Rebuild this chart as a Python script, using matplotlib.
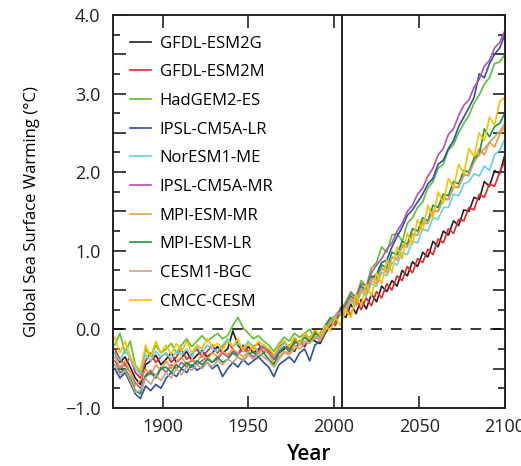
import numpy as np
import matplotlib
matplotlib.use("Agg")
import matplotlib.pyplot as plt
from matplotlib.ticker import MultipleLocator

plt.rcParams['font.family'] = ['Open Sans', 'DejaVu Sans']

# years sampled every 3 yr, 1872..2100
years = np.arange(1872, 2101, 3)

models = ["GFDL-ESM2G", "GFDL-ESM2M", "HadGEM2-ES", "IPSL-CM5A-LR", "NorESM1-ME",
          "IPSL-CM5A-MR", "MPI-ESM-MR", "MPI-ESM-LR", "CESM1-BGC", "CMCC-CESM"]
colors = ["#222222", "#e8232a", "#5cc22e", "#2f4fa8", "#62d2e2",
          "#b24fb8", "#f59a3c", "#17983a", "#c9a284", "#f7c200"]

gfdl_esm2g = [-0.30, -0.42, -0.35, -0.48, -0.62, -0.70, -0.45, -0.40, -0.33, -0.45,
              -0.38, -0.30, -0.42, -0.36, -0.28, -0.40, -0.33, -0.27, -0.35, -0.30,
              -0.22, -0.30, -0.25, -0.02, -0.20, -0.28, -0.22, -0.30, -0.25, -0.20,
              -0.28, -0.38, -0.30, -0.25, -0.20, -0.28, -0.15, -0.22, -0.10, -0.15,
              -0.18, -0.05, 0.05, 0.10, 0.22,
              0.15, 0.32, 0.20, 0.38, 0.26, 0.45, 0.35, 0.55, 0.48, 0.62,
              0.55, 0.75, 0.68, 0.86, 0.80, 0.98, 0.92, 1.12, 1.05, 1.25,
              1.20, 1.38, 1.32, 1.52, 1.50, 1.68, 1.65, 1.88, 1.82, 2.02,
              1.98, 2.22]
gfdl_esm2m = [-0.25, -0.38, -0.45, -0.35, -0.55, -0.62, -0.40, -0.30, -0.42, -0.35,
              -0.30, -0.42, -0.35, -0.25, -0.38, -0.32, -0.25, -0.35, -0.28, -0.20,
              -0.30, -0.22, -0.15, -0.25, -0.32, -0.20, -0.28, -0.22, -0.18, -0.30,
              -0.25, -0.35, -0.22, -0.15, -0.25, -0.12, -0.18, -0.05, -0.15, -0.02,
              -0.12, 0.02, 0.12, 0.05, 0.28,
              0.30, 0.18, 0.38, 0.25, 0.40, 0.30, 0.48, 0.40, 0.58, 0.50,
              0.68, 0.62, 0.80, 0.72, 0.90, 0.85, 1.02, 0.95, 1.15, 1.10,
              1.28, 1.22, 1.40, 1.38, 1.55, 1.52, 1.72, 1.68, 1.85, 1.82,
              2.00, 2.14]
hadgem2_es = [-0.20, -0.05, -0.30, -0.15, -0.45, -0.55, -0.25, -0.35, -0.20, -0.30,
              -0.25, -0.18, -0.30, -0.20, -0.12, -0.22, -0.15, -0.08, -0.15, -0.10,
              -0.05, -0.12, -0.08, 0.05, 0.15, 0.02, -0.05, -0.12, -0.08, -0.15,
              -0.20, -0.28, -0.18, -0.10, -0.15, -0.05, -0.10, -0.05, 0.00, -0.12,
              -0.05, 0.05, 0.12, 0.18, 0.25,
              0.35, 0.48, 0.40, 0.62, 0.55, 0.78, 0.85, 1.05, 0.98, 1.20,
              1.22, 1.12, 1.35, 1.42, 1.55, 1.62, 1.80, 1.88, 2.05, 2.10,
              2.28, 2.35, 2.50, 2.62, 2.72, 2.88, 2.98, 3.12, 3.20, 3.38,
              3.40, 3.50]
ipsl_lr = [-0.50, -0.62, -0.55, -0.68, -0.82, -0.88, -0.72, -0.78, -0.70, -0.75,
           -0.62, -0.55, -0.60, -0.50, -0.55, -0.45, -0.52, -0.48, -0.42, -0.50,
           -0.45, -0.60, -0.50, -0.42, -0.48, -0.38, -0.45, -0.40, -0.35, -0.42,
           -0.48, -0.60, -0.45, -0.40, -0.35, -0.42, -0.30, -0.25, -0.40, -0.20,
           -0.15, -0.05, 0.05, 0.12, 0.20,
           0.30, 0.40, 0.35, 0.52, 0.48, 0.65, 0.70, 0.85, 0.88, 1.05,
           1.18, 1.30, 1.45, 1.52, 1.62, 1.72, 1.85, 1.92, 2.10, 2.15,
           2.30, 2.40, 2.58, 2.70, 2.82, 2.95, 3.25, 3.20, 3.38, 3.50,
           3.58, 3.75]
noresm1_me = [-0.30, -0.40, -0.25, -0.38, -0.50, -0.58, -0.32, -0.40, -0.28, -0.35,
              -0.30, -0.38, -0.28, -0.32, -0.25, -0.35, -0.22, -0.30, -0.20, -0.25,
              -0.28, -0.20, -0.12, -0.22, -0.18, -0.25, -0.15, -0.22, -0.28, -0.20,
              -0.30, -0.35, -0.25, -0.18, -0.22, -0.15, -0.20, -0.10, -0.12, -0.05,
              -0.10, 0.00, 0.08, 0.15, 0.18,
              0.25, 0.35, 0.30, 0.48, 0.42, 0.58, 0.55, 0.72, 0.68, 0.85,
              0.82, 0.98, 0.95, 1.12, 1.10, 1.28, 1.25, 1.42, 1.40, 1.55,
              1.55, 1.72, 1.70, 1.85, 1.88, 1.98, 1.95, 2.08, 2.02, 2.22,
              2.28, 2.42]
ipsl_mr = [-0.40, -0.50, -0.45, -0.55, -0.68, -0.75, -0.58, -0.52, -0.60, -0.48,
           -0.55, -0.45, -0.50, -0.42, -0.48, -0.38, -0.45, -0.40, -0.35, -0.42,
           -0.38, -0.30, -0.35, -0.28, -0.32, -0.25, -0.30, -0.35, -0.28, -0.22,
           -0.30, -0.38, -0.28, -0.22, -0.25, -0.18, -0.15, -0.20, -0.10, -0.05,
           -0.08, 0.02, 0.10, 0.18, 0.25,
           0.32, 0.45, 0.42, 0.58, 0.55, 0.72, 0.82, 0.90, 1.02, 1.10,
           1.25, 1.35, 1.50, 1.58, 1.72, 1.80, 1.95, 2.05, 2.22, 2.30,
           2.48, 2.55, 2.72, 2.85, 2.92, 3.08, 3.18, 3.35, 3.42, 3.58,
           3.65, 3.80]
mpi_mr = [-0.35, -0.48, -0.40, -0.55, -0.72, -0.65, -0.50, -0.58, -0.45, -0.52,
          -0.40, -0.50, -0.42, -0.35, -0.45, -0.38, -0.42, -0.32, -0.38, -0.30,
          -0.35, -0.28, -0.32, -0.25, -0.30, -0.35, -0.28, -0.22, -0.30, -0.25,
          -0.32, -0.42, -0.35, -0.28, -0.30, -0.20, -0.25, -0.18, -0.12, -0.08,
          -0.15, -0.02, 0.08, 0.12, 0.20,
          0.22, 0.38, 0.32, 0.50, 0.45, 0.62, 0.58, 0.78, 0.72, 0.92,
          0.88, 1.08, 1.05, 1.22, 1.20, 1.38, 1.35, 1.52, 1.50, 1.68,
          1.65, 1.82, 1.80, 1.98, 1.95, 2.15, 2.30, 2.22, 2.38, 2.32,
          2.48, 2.58]
mpi_lr = [-0.45, -0.55, -0.50, -0.62, -0.78, -0.82, -0.60, -0.55, -0.62, -0.50,
          -0.48, -0.55, -0.45, -0.50, -0.42, -0.48, -0.40, -0.45, -0.38, -0.42,
          -0.35, -0.42, -0.38, -0.30, -0.35, -0.40, -0.32, -0.28, -0.35, -0.30,
          -0.38, -0.45, -0.30, -0.22, -0.28, -0.15, -0.18, -0.10, -0.15, -0.05,
          -0.08, 0.05, 0.15, 0.10, 0.25,
          0.30, 0.42, 0.38, 0.55, 0.50, 0.68, 0.65, 0.82, 0.78, 0.98,
          0.95, 1.12, 1.08, 1.28, 1.25, 1.42, 1.38, 1.58, 1.55, 1.72,
          1.70, 1.88, 1.85, 2.02, 2.00, 2.18, 2.22, 2.55, 2.45, 2.58,
          2.62, 2.75]
cesm1_bgc = [-0.45, -0.58, -0.52, -0.65, -0.80, -0.78, -0.62, -0.70, -0.58, -0.65,
             -0.55, -0.62, -0.50, -0.58, -0.48, -0.52, -0.45, -0.50, -0.42, -0.48,
             -0.40, -0.45, -0.38, -0.42, -0.35, -0.40, -0.32, -0.38, -0.30, -0.35,
             -0.40, -0.48, -0.38, -0.30, -0.32, -0.25, -0.20, -0.15, -0.18, -0.10,
             -0.12, 0.00, 0.10, 0.18, 0.22,
             0.28, 0.40, 0.36, 0.52, 0.48, 0.65, 0.62, 0.78, 0.75, 0.92,
             0.90, 1.05, 1.05, 1.20, 1.20, 1.35, 1.35, 1.50, 1.50, 1.65,
             1.65, 1.80, 1.82, 1.95, 1.98, 2.12, 2.22, 2.30, 2.38, 2.45,
             2.52, 2.62]
cmcc_cesm = [-0.10, -0.30, -0.15, -0.35, -0.45, -0.52, -0.20, -0.35, -0.15, -0.30,
             -0.20, -0.32, -0.18, -0.28, -0.15, -0.30, -0.20, -0.25, -0.12, -0.22,
             -0.18, -0.25, -0.15, -0.22, -0.12, -0.28, -0.18, -0.25, -0.15, -0.20,
             -0.25, -0.32, -0.20, -0.15, -0.22, -0.10, -0.18, -0.05, -0.12, 0.00,
             -0.08, 0.05, -0.02, 0.15, 0.05,
             0.25, 0.15, 0.45, 0.30, 0.58, 0.42, 0.72, 0.58, 0.88, 0.72,
             1.05, 0.90, 1.22, 1.08, 1.40, 1.25, 1.58, 1.42, 1.75, 1.60,
             1.92, 1.80, 2.10, 1.98, 2.30, 2.20, 2.50, 2.40, 2.70, 2.60,
             2.90, 2.95]

series = [gfdl_esm2g, gfdl_esm2m, hadgem2_es, ipsl_lr, noresm1_me,
          ipsl_mr, mpi_mr, mpi_lr, cesm1_bgc, cmcc_cesm]

fig = plt.figure(figsize=(5.21, 4.66), dpi=100)
ax = fig.add_axes([0.217, 0.1245, 0.752, 0.8435])

for name, vals, c in zip(models, series, colors):
    ax.plot(years, vals, color=c, lw=1.2, label=name)

ax.axhline(0, color="black", lw=1.1, dashes=(7, 6))
ax.axvline(2005, color="black", lw=1.2)

ax.set_xlim(1871, 2100)
ax.set_ylim(-1.0, 4.0)

ax.set_xticks([1900, 1950, 2000, 2050, 2100])
ax.yaxis.set_major_locator(MultipleLocator(0.5))
ax.yaxis.set_minor_locator(MultipleLocator(0.25))
ax.set_yticklabels(["\u22121.0" if v == -1 else ("%.1f" % v if v == int(v) else "")
                    for v in ax.get_yticks()])
ax.tick_params(which="both", direction="in", top=True, right=True,
               labelsize=13, colors="#222222", width=1.2)
ax.tick_params(which="major", length=9)
ax.tick_params(axis="x", which="major", pad=7)
ax.tick_params(axis="y", which="major", pad=9)
ax.tick_params(which="minor", length=5)
for s in ax.spines.values():
    s.set_linewidth(1.4)
    s.set_color("#222222")

ax.set_xlabel("Year", fontsize=15, fontweight="semibold", labelpad=6)
ax.set_ylabel("Global Sea Surface Warming (\u00b0C)", fontsize=12, labelpad=18)

ax.legend(loc="upper left", bbox_to_anchor=(0.0, 0.99), frameon=False,
          fontsize=12, handlelength=1.3, handletextpad=0.5, labelspacing=0.76,
          borderaxespad=0.6)

fig.savefig("out.png", dpi=100)
